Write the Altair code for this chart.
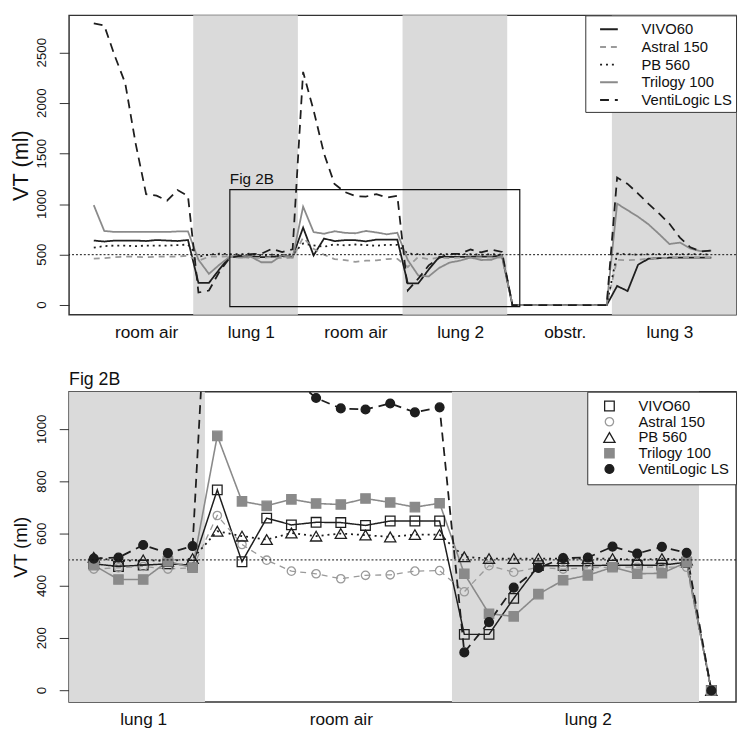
import altair as alt
import pandas as pd

# ---------------- data ----------------
series = ["VIVO60", "Astral 150", "PB 560", "Trilogy 100", "VentiLogic LS"]

# 60 measurement steps: room air, lung 1, room air, lung 2, obstr., lung 3 (10 each)
vivo60 = [640, 630, 640, 640, 640, 635, 645, 640, 635, 645,
          220, 220, 355, 480, 480, 485, 475, 480, 485, 480,
          768, 493, 660, 634, 644, 643, 632, 649, 649, 649,
          215, 215, 353, 478, 478, 478, 480, 480, 480, 491,
          0, 0, 0, 0, 0, 0, 0, 0, 0, 0,
          190, 140, 400, 460, 465, 470, 470, 470, 470, 470]
astral150 = [460, 465, 475, 480, 480, 475, 480, 480, 480, 490,
             440, 480, 480, 485, 480, 465, 470, 475, 465, 470,
             670, 559, 499, 457, 447, 428, 441, 443, 457, 459,
             378, 478, 453, 472, 465, 470, 472, 472, 472, 472,
             0, 0, 0, 0, 0, 0, 0, 0, 0, 0,
             450, 445, 450, 460, 465, 470, 470, 470, 470, 470]
pb560 = [570, 585, 590, 590, 585, 590, 590, 590, 595, 600,
         480, 500, 510, 505, 505, 510, 495, 500, 495, 505,
         610, 591, 578, 603, 591, 601, 595, 588, 597, 597,
         512, 505, 505, 505, 505, 505, 505, 500, 505, 500,
         0, 0, 0, 0, 0, 0, 0, 0, 0, 0,
         510, 505, 500, 505, 505, 505, 505, 505, 505, 500]
trilogy100 = [990, 735, 725, 725, 725, 725, 725, 725, 730, 730,
              450, 310, 400, 480, 470, 480, 425, 425, 495, 470,
              975, 724, 707, 732, 716, 712, 735, 720, 702, 717,
              447, 294, 284, 369, 422, 441, 472, 447, 449, 491,
              0, 0, 0, 0, 0, 0, 0, 0, 0, 0,
              1005, 940, 876, 800, 705, 605, 620, 560, 535, 540]
ventilogic = [2790, 2770, 2470, 2200, 1600, 1100, 1085, 1035, 1140, 1080,
              125, 145, 330, 470, 490, 505, 509, 557, 526, 553,
              2310, 1930, 1500, 1200, 1120, 1080, 1076, 1099, 1065, 1084,
              146, 262, 394, 469, 507, 509, 551, 524, 550, 527,
              0, 0, 0, 0, 0, 0, 0, 0, 0, 0,
              1264, 1201, 1105, 1003, 908, 806, 669, 573, 532, 541]
all_values = [vivo60, astral150, pb560, trilogy100, ventilogic]

top_sections = ["room air", "lung 1", "room air", "lung 2", "obstr.", "lung 3"]
top_section_steps = [6, 16, 26, 36, 46, 56]
top_band_start = [10.5, 30.5, 50.5]
top_band_end = [20.5, 40.5, 62.36]
top_y_ticks = [0, 500, 1000, 1500, 2000, 2500]

# Fig 2B zooms into steps 16..41 of the full record
zoom_first_step = 16
zoom_last_step = 41
bottom_sections = ["lung 1", "room air", "lung 2"]
bottom_section_steps = [3, 11, 21]
bottom_band_start = [0, 15.5]
bottom_band_end = [5.5, 25.5]
bottom_y_ticks = [0, 200, 400, 600, 800, 1000]

target_vt = [500]
box_step = [14]
box_step_end = [41.7]
box_vt = [-15]
box_vt_end = [1145]
box_label = ["Fig 2B"]

# ---------------- styles ----------------
FONT = "Liberation Sans"
colors = ["#1e1e1e", "#9a9a9a", "#1e1e1e", "#8a8a8a", "#1e1e1e"]
dashes = [[1, 0], [6, 5], [2, 4], [1, 0], [9, 6]]
bot_widths = [1.5, 1.3, 1.8, 1.6, 1.8]
shapes = ["square", "circle", "triangle-up", "square", "circle"]
fills = ["transparent", "transparent", "transparent", "#8a8a8a", "#1e1e1e"]
marker_sizes = [95, 72, 130, 90, 80]

W = 677
TOP_H = 304
BOT_H = 315

# ---------------- tables ----------------
top_rows = []
bot_rows = []
for name, vals in zip(series, all_values):
    for i, v in enumerate(vals):
        top_rows.append({"step": i + 1, "series": name, "vt": v})
    for j, v in enumerate(vals[zoom_first_step - 1:zoom_last_step]):
        bot_rows.append({"step": j + 1, "series": name, "vt": v})
top_df = pd.DataFrame(top_rows)
bot_df = pd.DataFrame(bot_rows)
top_bands = pd.DataFrame({"step": top_band_start, "step_end": top_band_end})
bot_bands = pd.DataFrame({"step": bottom_band_start, "step_end": bottom_band_end})
ref_df = pd.DataFrame({"vt": target_vt})
box_df = pd.DataFrame({"step": box_step, "step_end": box_step_end,
                       "vt": box_vt, "vt_end": box_vt_end, "label": box_label})
top_ticks_df = pd.DataFrame({"vt": top_y_ticks, "label": [str(v) for v in top_y_ticks]})
bot_ticks_df = pd.DataFrame({"vt": bottom_y_ticks, "label": [str(v) for v in bottom_y_ticks]})


def label_expr(pos, names):
    parts = [f"datum.value == {p} ? '{n}'" for p, n in zip(pos, names)]
    return " : ".join(parts) + " : ''"


def x_axis(pos, names):
    return alt.Axis(values=pos, labelExpr=label_expr(pos, names), ticks=False,
                    domain=False, grid=False, labelFontSize=17.5, labelPadding=9,
                    labelFlush=False, labelOverlap=False, title=None,
                    labelColor="#111", labelFont=FONT)


def y_axis(ticks, title_size, title_pad):
    return alt.Axis(values=ticks, labels=False, tickSize=10, tickColor="#333",
                    domain=False, grid=False,
                    title="VT (ml)", titleFontSize=title_size, titlePadding=title_pad,
                    titleFontWeight="normal", titleFont=FONT, titleColor="#111")


def tick_labels(df, scale, axis):
    return alt.Chart(df).mark_text(
        angle=270, align="center", baseline="bottom",
        fontSize=13.5, font=FONT, color="#111").encode(
        x=alt.value(-20), y=alt.Y("vt:Q", scale=scale, axis=axis), text="label:N")


# ---------------- top panel ----------------
xs_top = alt.Scale(domain=[-1.36, 62.36], nice=False, zero=False)
ys_top = alt.Scale(domain=[-96, 2870], nice=False, zero=False)
xa_top = x_axis(top_section_steps, top_sections)
ya_top = y_axis(top_y_ticks, 22, 27)

top_legend = alt.Legend(title=None, orient="top-right", offset=0, strokeColor="#333",
                        fillColor="white", padding=4, rowPadding=-2, labelFontSize=15,
                        labelFont=FONT, labelColor="#111", symbolType="stroke",
                        symbolSize=324, symbolStrokeWidth=2, symbolOffset=10,
                        labelOffset=23, labelLimit=0, cornerRadius=0)

bands_top = alt.Chart(top_bands).mark_rect(color="#dadada").encode(
    x=alt.X("step:Q", scale=xs_top, axis=xa_top), x2="step_end:Q",
    y=alt.value(0), y2=alt.value(TOP_H))

lines_top = alt.Chart(top_df).mark_line(strokeWidth=1.8, clip=True).encode(
    x=alt.X("step:Q", scale=xs_top, axis=xa_top),
    y=alt.Y("vt:Q", scale=ys_top, axis=ya_top),
    color=alt.Color("series:N", scale=alt.Scale(domain=series, range=colors),
                    legend=top_legend, sort=series),
    strokeDash=alt.StrokeDash("series:N", scale=alt.Scale(domain=series, range=dashes),
                              legend=top_legend, sort=series),
    detail="series:N")

rule_top = alt.Chart(ref_df).mark_rule(color="#111", strokeDash=[2, 2], strokeWidth=1).encode(
    y=alt.Y("vt:Q", scale=ys_top, axis=ya_top))

box_top = alt.Chart(box_df).mark_rect(fillOpacity=0, stroke="#111", strokeWidth=1.2).encode(
    x=alt.X("step:Q", scale=xs_top, axis=xa_top), x2="step_end:Q",
    y=alt.Y("vt:Q", scale=ys_top, axis=ya_top), y2="vt_end:Q")

box_text = alt.Chart(box_df).mark_text(align="left", baseline="bottom", dy=-3,
                                       fontSize=15.5, font=FONT, color="#111").encode(
    x=alt.X("step:Q", scale=xs_top, axis=xa_top),
    y=alt.Y("vt_end:Q", scale=ys_top, axis=ya_top), text="label:N")

top = alt.layer(bands_top, lines_top, rule_top, box_top, box_text,
                tick_labels(top_ticks_df, ys_top, ya_top)).properties(
    width=W, height=TOP_H)

# ---------------- bottom panel ----------------
xs_bot = alt.Scale(domain=[0, 27], nice=False, zero=False)
ys_bot = alt.Scale(domain=[-44, 1144], nice=False, zero=False)
xa_bot = x_axis(bottom_section_steps, bottom_sections)
ya_bot = y_axis(bottom_y_ticks, 19, 29)

bot_legend = alt.Legend(title=None, orient="top-right", offset=0, strokeColor="#333",
                        fillColor="white", padding=7, rowPadding=-1, labelFontSize=15,
                        labelFont=FONT, labelColor="#111", symbolSize=80,
                        symbolStrokeWidth=1.3, symbolOffset=8, labelOffset=22,
                        labelLimit=0, cornerRadius=0)

bands_bot = alt.Chart(bot_bands).mark_rect(color="#dadada").encode(
    x=alt.X("step:Q", scale=xs_bot, axis=xa_bot), x2="step_end:Q",
    y=alt.value(0), y2=alt.value(BOT_H))

line_layers = []
for name, c, d, w in zip(series, colors, dashes, bot_widths):
    line_layers.append(
        alt.Chart(bot_df).transform_filter(alt.datum.series == name).mark_line(
            color=c, strokeDash=d, strokeWidth=w, clip=True).encode(
            x=alt.X("step:Q", scale=xs_bot, axis=xa_bot),
            y=alt.Y("vt:Q", scale=ys_bot, axis=ya_bot)))

points_bot = alt.Chart(bot_df).mark_point(filled=False, strokeWidth=1.3, opacity=1,
                                          clip=True).encode(
    x=alt.X("step:Q", scale=xs_bot, axis=xa_bot),
    y=alt.Y("vt:Q", scale=ys_bot, axis=ya_bot),
    color=alt.Color("series:N", scale=alt.Scale(domain=series, range=colors),
                    legend=bot_legend, sort=series),
    shape=alt.Shape("series:N", scale=alt.Scale(domain=series, range=shapes),
                    legend=bot_legend, sort=series),
    fill=alt.Fill("series:N", scale=alt.Scale(domain=series, range=fills),
                  legend=bot_legend, sort=series),
    size=alt.Size("series:N", scale=alt.Scale(domain=series, range=marker_sizes,
                                              type="ordinal"), legend=None))

rule_bot = alt.Chart(ref_df).mark_rule(color="#111", strokeDash=[2, 2], strokeWidth=1).encode(
    y=alt.Y("vt:Q", scale=ys_bot, axis=ya_bot))

bottom = alt.layer(bands_bot, *line_layers, points_bot, rule_bot,
                   tick_labels(bot_ticks_df, ys_bot, ya_bot)).properties(
    width=W, height=BOT_H,
    title=alt.TitleParams("Fig 2B", anchor="start", frame="group", fontSize=18,
                          font=FONT, fontWeight="normal", color="#111", offset=2))

chart = alt.vconcat(top, bottom, spacing=28).resolve_scale(
    color="independent", strokeDash="independent", shape="independent",
    fill="independent", size="independent", x="independent", y="independent"
).resolve_legend(
    color="independent", strokeDash="independent", shape="independent",
    fill="independent"
).properties(padding=0).configure_view(
    stroke="#333", strokeWidth=1.5
).configure_legend(labelFont=FONT)

chart.save("out.html", embed_options={"renderer": "svg", "actions": False})
